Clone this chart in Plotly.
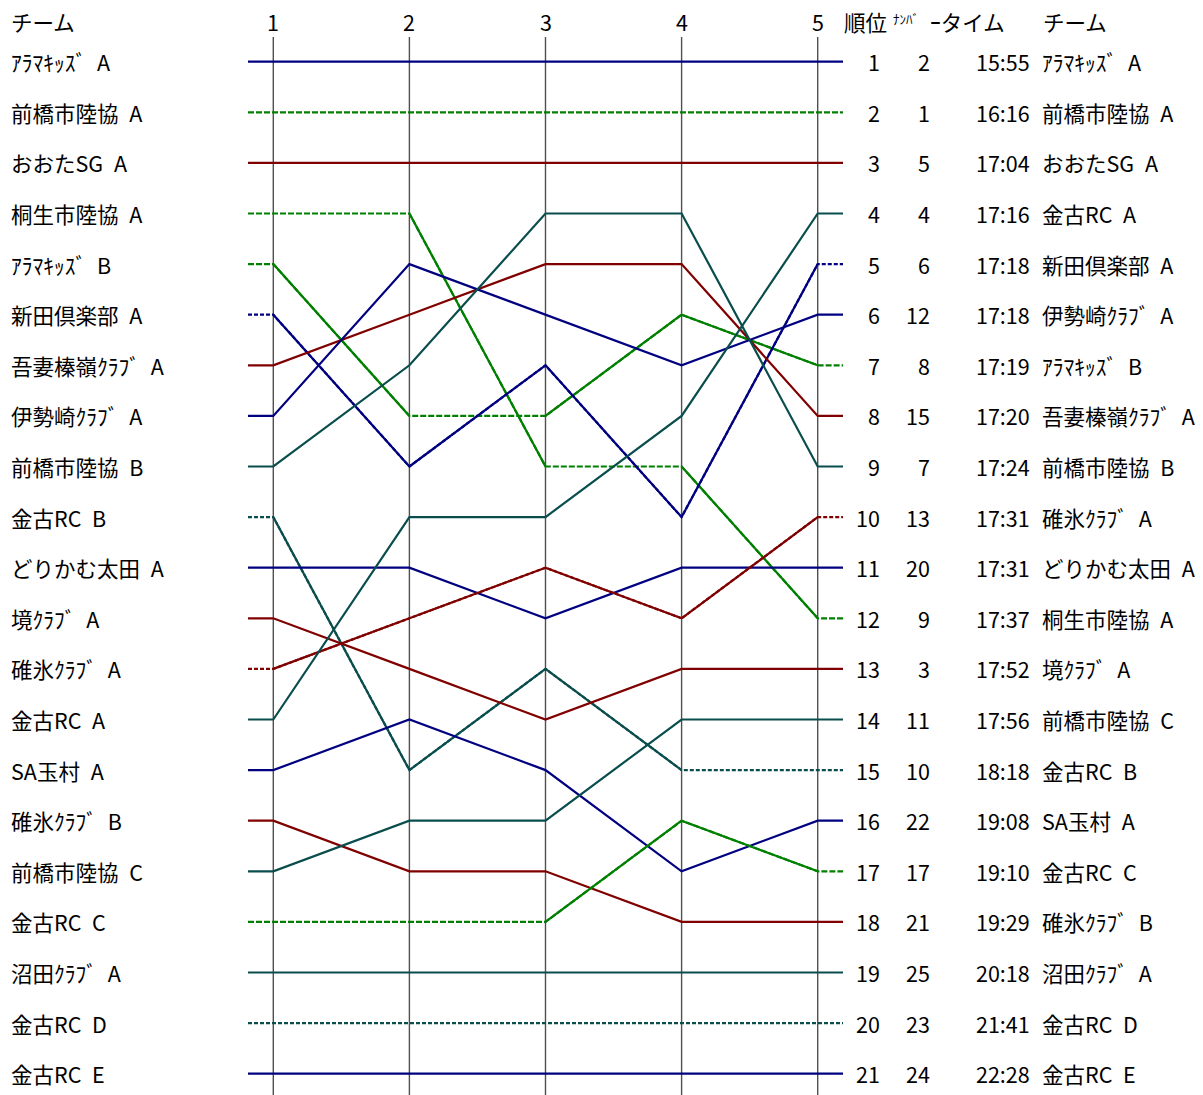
import plotly.graph_objects as go

W, H = 1203, 1095

# ---------------- data ----------------
legs = [1, 2, 3, 4, 5]

teams = [
    "ｱﾗﾏｷｯｽﾞ A", "前橋市陸協 A", "おおたSG A", "桐生市陸協 A", "ｱﾗﾏｷｯｽﾞ B",
    "新田倶楽部 A", "吾妻榛嶺ｸﾗﾌﾞ A", "伊勢崎ｸﾗﾌﾞ A", "前橋市陸協 B", "金古RC B",
    "どりかむ太田 A", "境ｸﾗﾌﾞ A", "碓氷ｸﾗﾌﾞ A", "金古RC A", "SA玉村 A",
    "碓氷ｸﾗﾌﾞ B", "前橋市陸協 C", "金古RC C", "沼田ｸﾗﾌﾞ A", "金古RC D", "金古RC E",
]

leg1_rank = [1, 2, 3, 4, 5, 6, 7, 8, 9, 10, 11, 12, 13, 14, 15, 16, 17, 18, 19, 20, 21]
leg2_rank = [1, 2, 3, 4, 8, 9, 6, 5, 7, 15, 11, 13, 12, 10, 14, 17, 16, 18, 19, 20, 21]
leg3_rank = [1, 2, 3, 9, 8, 7, 5, 6, 4, 13, 12, 14, 11, 10, 15, 17, 16, 18, 19, 20, 21]
leg4_rank = [1, 2, 3, 9, 6, 10, 5, 7, 4, 15, 11, 13, 12, 8, 17, 18, 14, 16, 19, 20, 21]
leg5_rank = [1, 2, 3, 12, 7, 5, 8, 6, 9, 15, 11, 13, 10, 4, 16, 18, 14, 17, 19, 20, 21]

final_rank = list(range(1, 22))
final_bib = [2, 1, 5, 4, 6, 12, 8, 15, 7, 13, 20, 9, 3, 11, 10, 22, 17, 21, 25, 23, 24]
final_time = ["15:55", "16:16", "17:04", "17:16", "17:18", "17:18", "17:19", "17:20",
              "17:24", "17:31", "17:31", "17:37", "17:52", "17:56", "18:18", "19:08",
              "19:10", "19:29", "20:18", "21:41", "22:28"]

header_team = "チーム"
header_rank = "順位"
header_bib = "ﾅﾝﾊﾞ"
header_time = "ｰタイム"

# ---------------- styles ----------------
NAVY, GREEN, RED, TEAL = "#000080", "#008000", "#800000", "#0a4d4d"
team_color = [NAVY, GREEN, RED, GREEN, GREEN, NAVY, RED, NAVY, TEAL, TEAL,
              NAVY, RED, RED, TEAL, NAVY, RED, TEAL, GREEN, TEAL, TEAL, NAVY]
team_dash = ["solid", "6px,2px", "solid", "6px,2px", "6px,2px", "4px,2px", "solid", "solid",
             "solid", "4px,2px", "solid", "solid", "4px,2px", "solid", "solid", "solid",
             "solid", "6px,2px", "solid", "4px,2px", "solid"]

FONT = "Noto Sans CJK JP"
FS = 21.5
LW = 2.2

# pixel geometry
LEG1_PX, LEG_STEP_PX = 273.3, 136.1
ROW1_PX, ROW_STEP_PX = 61.7, 50.6
STUB = 25.3 / LEG_STEP_PX

x_range = [legs[0] - LEG1_PX / LEG_STEP_PX, legs[0] + (W - LEG1_PX) / LEG_STEP_PX]
y_range = [1 + (H - ROW1_PX) / ROW_STEP_PX, 1 - ROW1_PX / ROW_STEP_PX]


def px(x):
    return x / W


def py(y):
    return 1 - y / H


def wide(s):
    # monospace-like gap between name and team letter
    return s.replace(" ", "\u2002")


fig = go.Figure()

all_ranks = list(zip(leg1_rank, leg2_rank, leg3_rank, leg4_rank, leg5_rank))

for i, name in enumerate(teams):
    r = list(all_ranks[i])
    xs = [legs[0] - STUB] + legs + [legs[-1] + STUB]
    ys = [r[0]] + r + [r[-1]]
    fig.add_trace(go.Scatter(
        x=xs, y=ys, mode="lines", name=name,
        line=dict(color=team_color[i], width=LW, dash=team_dash[i]),
        hoverinfo="skip", showlegend=False,
    ))
    if team_dash[i] != "solid":
        sx, sy = [], []
        for a in range(len(xs) - 1):
            if ys[a] != ys[a + 1]:
                sx += [xs[a], xs[a + 1], None]
                sy += [ys[a], ys[a + 1], None]
        if sx:
            fig.add_trace(go.Scatter(
                x=sx, y=sy, mode="lines",
                line=dict(color=team_color[i], width=LW, dash="solid"),
                hoverinfo="skip", showlegend=False,
            ))

shapes = []
for L in legs:
    shapes.append(dict(type="line", xref="x", yref="paper", x0=L, x1=L,
                       y0=0, y1=py(37), line=dict(color="#505050", width=1.4),
                       layer="below"))

ann = []
txt = dict(family=FONT, size=FS, color="#000000")


def add(text, x, y, xanchor="left", xref="paper", yref="paper", font=None):
    ann.append(dict(text=text, x=x, y=y, xref=xref, yref=yref, xanchor=xanchor,
                    yanchor="middle", showarrow=False, font=font or txt,
                    borderpad=0))

# headers
add(header_team, px(10), py(22))
for L in legs:
    add(str(L), L, py(22), xanchor="center", xref="x")
add(header_rank, px(843), py(22))
add(header_bib, px(892), py(18), font=dict(family=FONT, size=13, color="#000"))
add(header_time, px(929), py(22))
add(header_team, px(1042), py(22))

# left team names
for i, name in enumerate(teams):
    add(wide(name), px(10), leg1_rank[i], yref="y")

# right table
by_final = {leg5_rank[i]: teams[i] for i in range(len(teams))}
for k, rk in enumerate(final_rank):
    add(str(rk), px(881), rk, xanchor="right", yref="y")
    add(str(final_bib[k]), px(931), rk, xanchor="right", yref="y")
    add(final_time[k], px(1031), rk, xanchor="right", yref="y")
    add(wide(by_final[rk]), px(1041), rk, yref="y")

fig.update_layout(
    width=W, height=H, margin=dict(l=0, r=0, t=0, b=0),
    paper_bgcolor="white", plot_bgcolor="white",
    xaxis=dict(range=x_range, visible=False, fixedrange=True),
    yaxis=dict(range=y_range, visible=False, fixedrange=True),
    shapes=shapes, annotations=ann, hovermode=False,
    font=dict(family=FONT),
)

fig.write_html("out.html", config={"displayModeBar": False, "staticPlot": True},
               post_script="document.body.style.margin='0';")
